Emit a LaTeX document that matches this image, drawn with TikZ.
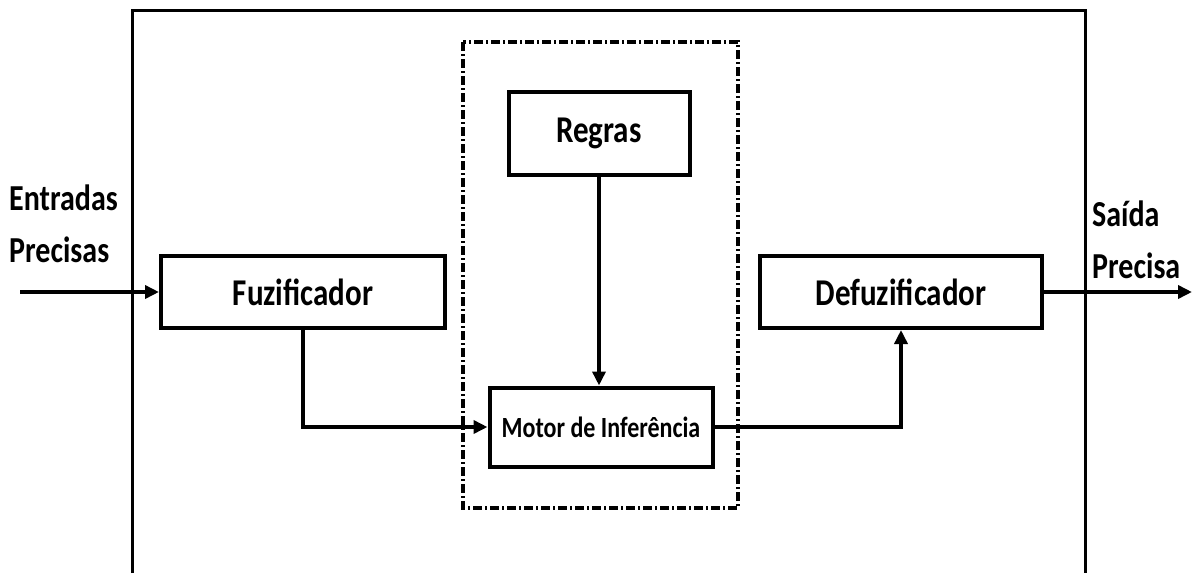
\documentclass[tikz,border=0pt]{standalone}
\usepackage{fontspec}
\setmainfont{Carlito}
\usepackage{graphicx}
\usepackage{tikz}
\usetikzlibrary{arrows.meta, positioning}
\newcommand{\alto}[1]{\scalebox{1}[1.22]{#1}}

\begin{document}
\begin{tikzpicture}[x=1pt, y=-1pt,
        bloco/.style={rectangle, draw=black, line width=4pt, align=center, inner sep=0pt, font=\bfseries\fontsize{31}{36}\selectfont},
        rotulo/.style={align=left, inner sep=0pt, font=\bfseries\fontsize{30}{52}\selectfont},
        seta/.style={-{Triangle[length=14pt, width=13pt]}, line width=3.5pt, color=black}
    ]
        \useasboundingbox[fill=white] (0,0) rectangle (1194,573);
        % moldura do sistema
        \draw[line width=3pt] (132,573) |- (1085,10) -- (1085,573);
        \draw[line width=4pt, dash pattern=on 9pt off 3pt on 2pt off 3pt] (463,42) rectangle (738,508);

        \node[bloco, minimum width=284pt, minimum height=72pt] (fuz) at (303,292) {\alto{Fuzificador}};
        \node[bloco, minimum width=282pt, minimum height=72pt] (defuz) at (901,292) {\alto{Defuzificador}};
        \node[bloco, minimum width=181pt, minimum height=83pt] (regras) at (599,133) {\alto{Regras}};
        \node[bloco, minimum width=223pt, minimum height=79pt, font=\bfseries\fontsize{24}{28}\selectfont] (motor) at (601,427) {\alto{Motor de Inferência}};

        \node[rotulo, anchor=west] (entradas) at (9,224) {\alto{Entradas}\\\alto{Precisas}};
        \node[rotulo, anchor=west] (saida) at (1092,240) {\alto{Saída}\\\alto{Precisa}};
        \coordinate (ent) at (20,292);
        \coordinate (sai) at (1192,292);

        \draw[seta] (ent) -- (fuz.west);
        \draw[seta] (fuz.south) |- (motor.west);
        \draw[seta] (regras.south) -- (regras.south |- motor.north);
        \draw[seta] (motor.east) -| (defuz.south);
        \draw[seta] (defuz.east) -- (sai);
    \end{tikzpicture}
\end{document}
